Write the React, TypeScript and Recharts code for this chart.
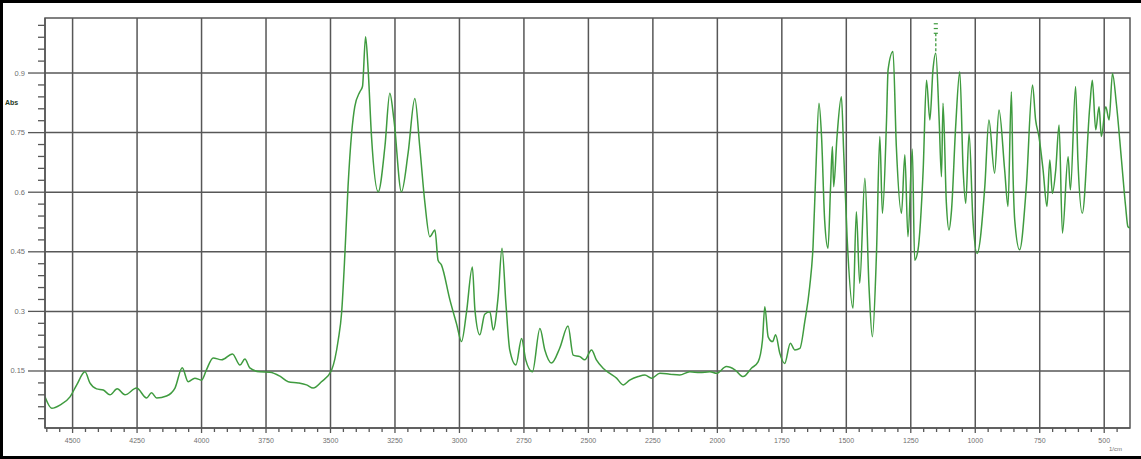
import React from 'react';
import { LineChart, Line, XAxis, YAxis, ReferenceLine, ReferenceArea } from 'recharts';

// wavenumbers (1/cm), left to right
const WAVENUMBER = [
  4607, 4581, 4549, 4510, 4484, 4452, 4433, 4407, 4381, 4355,
  4327, 4297, 4252, 4213, 4194, 4174, 4136, 4103, 4075, 4052,
  4026, 4000, 3981, 3955, 3922, 3880, 3851, 3832, 3813, 3774,
  3735, 3696, 3664, 3625, 3593, 3567, 3535, 3496, 3470, 3457,
  3444, 3432, 3418, 3406, 3386, 3376, 3364, 3354, 3341, 3315,
  3289, 3270, 3254, 3225, 3199, 3173, 3154, 3134, 3115, 3095,
  3083, 3070, 3037, 3011, 2992, 2973, 2950, 2940, 2921, 2902,
  2882, 2869, 2850, 2835, 2820, 2805, 2781, 2759, 2743, 2717,
  2688, 2669, 2643, 2611, 2579, 2559, 2533, 2514, 2488, 2469,
  2443, 2417, 2391, 2365, 2340, 2307, 2281, 2255, 2223, 2184,
  2146, 2107, 2068, 2029, 2003, 1965, 1932, 1900, 1868, 1842,
  1825, 1816, 1803, 1786, 1774, 1758, 1739, 1717, 1700, 1680,
  1661, 1642, 1629, 1618, 1606, 1596, 1584, 1571, 1561, 1554,
  1549, 1536, 1519, 1510, 1497, 1474, 1461, 1448, 1428, 1412,
  1399, 1383, 1370, 1360, 1344, 1338, 1319, 1306, 1286, 1273,
  1261, 1244, 1235, 1222, 1202, 1189, 1176, 1164, 1153, 1140,
  1131, 1125, 1112, 1102, 1092, 1076, 1060, 1047, 1037, 1024,
  1009, 993, 963, 947, 925, 908, 886, 873, 860, 854,
  847, 828, 802, 778, 766, 753, 737, 722, 711, 701,
  688, 675, 662, 640, 631, 611, 602, 585, 556, 546,
  533, 520, 511, 494, 481, 468, 453, 433, 417, 408,
  401,
];

// absorbance at each wavenumber
const ABSORBANCE = [
  0.085, 0.056, 0.064, 0.085, 0.115, 0.148, 0.12, 0.105, 0.102, 0.09,
  0.105, 0.09, 0.107, 0.082, 0.095, 0.082, 0.087, 0.107, 0.158, 0.123,
  0.132, 0.127, 0.153, 0.183, 0.178, 0.193, 0.165, 0.18, 0.158, 0.148,
  0.147, 0.137, 0.123, 0.12, 0.115, 0.107, 0.123, 0.152, 0.228, 0.296,
  0.447, 0.614, 0.749, 0.815, 0.853, 0.866, 0.991, 0.908, 0.74, 0.601,
  0.715, 0.849, 0.782, 0.601, 0.699, 0.836, 0.715, 0.573, 0.488, 0.505,
  0.429, 0.417, 0.329, 0.268, 0.224, 0.296, 0.412, 0.304, 0.241, 0.293,
  0.299, 0.253, 0.337, 0.459, 0.321, 0.203, 0.165, 0.232, 0.178, 0.148,
  0.257, 0.203, 0.17, 0.208, 0.263, 0.19, 0.186, 0.178, 0.203, 0.178,
  0.157, 0.144, 0.132, 0.115, 0.127, 0.136, 0.14, 0.132, 0.144, 0.142,
  0.14, 0.148, 0.146, 0.148, 0.144, 0.161, 0.153, 0.136, 0.157, 0.173,
  0.228, 0.312, 0.236, 0.224, 0.241, 0.195, 0.169, 0.22, 0.203, 0.207,
  0.274, 0.362, 0.463, 0.656, 0.824, 0.74, 0.53, 0.459, 0.614, 0.715,
  0.614, 0.74, 0.84, 0.698, 0.488, 0.308, 0.551, 0.371, 0.635, 0.362,
  0.236, 0.446, 0.74, 0.547, 0.782, 0.908, 0.954, 0.715, 0.547, 0.694,
  0.488, 0.709, 0.429, 0.455, 0.656, 0.882, 0.782, 0.908, 0.95, 0.782,
  0.639, 0.824, 0.572, 0.505, 0.555, 0.765, 0.903, 0.656, 0.572, 0.748,
  0.53, 0.446, 0.614, 0.782, 0.648, 0.807, 0.656, 0.564, 0.853, 0.656,
  0.53, 0.455, 0.614, 0.87, 0.782, 0.74, 0.656, 0.564, 0.681, 0.597,
  0.656, 0.769, 0.497, 0.689, 0.606, 0.866, 0.681, 0.547, 0.815, 0.882,
  0.757, 0.815, 0.74, 0.815, 0.782, 0.899, 0.824, 0.681, 0.564, 0.513,
  0.51,
];

const X_MAJOR = [4500, 4250, 4000, 3750, 3500, 3250, 3000, 2750, 2500, 2250, 2000, 1750, 1500, 1250, 1000, 750, 500];
const Y_MAJOR = [0.15, 0.3, 0.45, 0.6, 0.75, 0.9];
const X_DOMAIN = [400, 4607];
const Y_DOMAIN = [0.0065, 1.0385];
const MARKER_X = 1153;

// minor ticks every 50 cm-1 and every 0.03 abs
const X_TICKS = Array.from({ length: 84 }, (_, i) => 450 + i * 50);
const Y_TICKS = Array.from({ length: 34 }, (_, i) => +(0.03 * (i + 1)).toFixed(2));

const data = WAVENUMBER.map((wn, i) => ({ wn, abs: ABSORBANCE[i] }));

const GRID = '#575757';
const GREEN = '#3f9b3f';
const LABEL = '#707070';

const XTick = (props: any) => {
  const { x, y, payload } = props;
  const v = payload.value;
  const major = v % 250 === 0;
  return (
    <g>
      <line x1={x} x2={x} y1={y} y2={y + (major ? 5 : 4)} stroke={GRID} strokeWidth={1.3} />
      {major && (
        <text x={x} y={y + 15} textAnchor="middle" fontSize={7} fill={LABEL} fontFamily="Liberation Sans">
          {v}
        </text>
      )}
    </g>
  );
};

const YTick = (props: any) => {
  const { x, y, payload } = props;
  const v = payload.value;
  const major = Math.round(v * 100) % 15 === 0;
  return (
    <g>
      <line x1={x - (major ? 17 : 7)} x2={x} y1={y} y2={y} stroke={GRID} strokeWidth={1.3} />
      {major && (
        <text x={x - 20} y={y + 2.5} textAnchor="end" fontSize={7.5} fill={LABEL} fontFamily="Liberation Sans">
          {String(v)}
        </text>
      )}
    </g>
  );
};

export default function App() {
  return (
    <div style={{ position: 'absolute', left: 0, top: 0, width: 1141, height: 459, background: '#fff' }}>
      <div
        style={{
          position: 'absolute', left: 0, top: 0, width: 1141, height: 459, boxSizing: 'border-box',
          borderTop: '3px solid #000', borderLeft: '3px solid #000', borderBottom: '3px solid #000',
        }}
      />
      <div style={{ position: 'absolute', left: 0, top: 0 }}>
        <LineChart width={1141} height={459} data={data} margin={{ top: 18, right: 11, bottom: 0, left: 0 }}>
          <XAxis
            dataKey="wn"
            type="number"
            domain={X_DOMAIN}
            reversed
            allowDataOverflow
            ticks={X_TICKS}
            interval={0}
            tick={XTick}
            tickLine={false}
            tickSize={0}
            tickMargin={0}
            height={31}
            axisLine={{ stroke: GRID, strokeWidth: 1.5 }}
          />
          <YAxis
            type="number"
            domain={Y_DOMAIN}
            allowDataOverflow
            ticks={Y_TICKS}
            interval={0}
            tick={YTick}
            tickLine={false}
            tickSize={0}
            tickMargin={0}
            width={45}
            axisLine={{ stroke: GRID, strokeWidth: 1.5 }}
          />
          {X_MAJOR.map((v) => (
            <ReferenceLine key={'x' + v} x={v} stroke={GRID} strokeWidth={1.5} />
          ))}
          {Y_MAJOR.map((v) => (
            <ReferenceLine key={'y' + v} y={v} stroke={GRID} strokeWidth={1.5} />
          ))}
          <ReferenceArea
            x1={X_DOMAIN[1]}
            x2={X_DOMAIN[0]}
            y1={Y_DOMAIN[0]}
            y2={Y_DOMAIN[1]}
            fill="none"
            stroke={GRID}
            strokeWidth={1.5}
          />
          <Line
            type="monotone"
            dataKey="abs"
            stroke={GREEN}
            strokeWidth={1.5}
            dot={false}
            isAnimationActive={false}
          />
          <ReferenceLine
            segment={[{ x: MARKER_X, y: 0.955 }, { x: MARKER_X, y: 1.0 }]}
            stroke={GREEN}
            strokeWidth={1.3}
            strokeDasharray="3 2"
          />
          {[1.0, 1.012, 1.024].map((v) => (
            <ReferenceLine
              key={'m' + v}
              segment={[{ x: MARKER_X + 8, y: v }, { x: MARKER_X - 8, y: v }]}
              stroke={GREEN}
              strokeWidth={1.2}
            />
          ))}
        </LineChart>
      </div>
      <div style={{ position: 'absolute', left: 5, top: 99, fontSize: 7, fontFamily: 'Liberation Sans', color: '#1e3a1e', fontWeight: 'bold' }}>
        Abs
      </div>
      <div style={{ position: 'absolute', left: 1109, top: 446, fontSize: 6, fontFamily: 'Liberation Sans', color: LABEL }}>
        1/cm
      </div>
    </div>
  );
}
